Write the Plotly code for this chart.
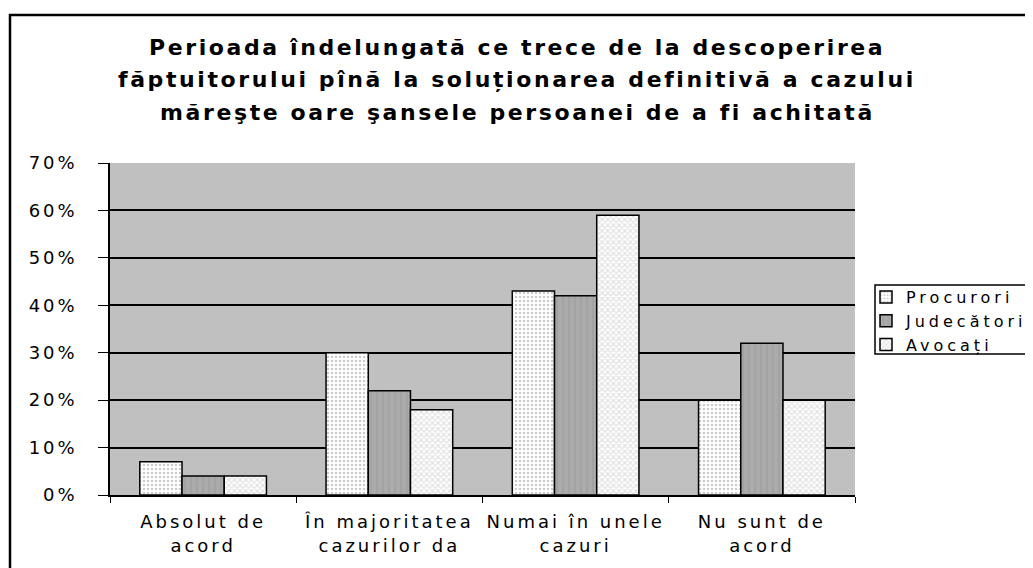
import plotly.graph_objects as go

# data
categories = ["Absolut de<br>acord", "În majoritatea<br>cazurilor da",
              "Numai în unele<br>cazuri", "Nu sunt de<br>acord"]
series_names = ["Procurori", "Judecători", "Avocați"]
procurori = [0.07, 0.30, 0.43, 0.20]
judecatori = [0.04, 0.22, 0.42, 0.32]
avocati = [0.04, 0.18, 0.59, 0.20]
y_ticks = [0, 0.1, 0.2, 0.3, 0.4, 0.5, 0.6, 0.7]
title_lines = ["Perioada îndelungată ce trece de la descoperirea",
               "făptuitorului pînă la soluționarea definitivă a cazului",
               "măreşte oare şansele persoanei de a fi achitată"]


def wide(text, ls=3):
    # the original font is stretched; letter spacing imitates it
    return "<br>".join(f"<span style='letter-spacing:{ls}px'>{t}</span>"
                       for t in text.split("<br>"))


W, H = 1033, 568
OFF = 8  # page body margin
L, T = 110 - OFF, 163 - OFF
PW, PH = 745, 332
R, B = W - L - PW, H - T - PH
FONT = "DejaVu Sans, Liberation Sans, Arial, sans-serif"


def px_x(v):
    return (v - 110) / PW


def px_y(v):
    return (495 - v) / PH


fig = go.Figure()
fig.add_trace(go.Bar(
    x=categories, y=procurori, name=wide(series_names[0], 4),
    marker=dict(color="white", line=dict(color="black", width=1.5),
                pattern=dict(shape=".", fgcolor="#9a9a9a", bgcolor="white",
                             size=4, solidity=0.35)),
))
fig.add_trace(go.Bar(
    x=categories, y=judecatori, name=wide(series_names[1], 4),
    marker=dict(color="#a8a8a8", line=dict(color="black", width=1.5),
                pattern=dict(shape="|", fgcolor="#9c9c9c", bgcolor="#ababab",
                             size=6, solidity=0.4)),
))
fig.add_trace(go.Bar(
    x=categories, y=avocati, name=wide(series_names[2], 4),
    marker=dict(color="#e0e0e0", line=dict(color="black", width=1.5),
                pattern=dict(shape="x", fgcolor="#c4c4c4", bgcolor="white",
                             size=4, solidity=0.5)),
))

# outer chart border (left and top visible, the rest runs off the picture)
fig.add_shape(type="rect", xref="paper", yref="paper",
              x0=px_x(10), x1=px_x(1060), y0=px_y(15), y1=px_y(600),
              line=dict(color="black", width=2.5), layer="below")
# legend box
fig.add_shape(type="rect", xref="paper", yref="paper",
              x0=px_x(875), x1=px_x(1045), y0=px_y(285), y1=px_y(354),
              line=dict(color="black", width=1.5), fillcolor="white",
              layer="below")

# title, one annotation per line
for i, line in enumerate(title_lines):
    fig.add_annotation(text=f"<b>{wide(line, 2.6)}</b>", xref="paper", yref="paper",
                       x=px_x(517), y=px_y(47 + 33 * i), xanchor="center",
                       yanchor="middle", showarrow=False,
                       font=dict(size=22, color="black", family=FONT))

fig.update_layout(
    width=W, height=H,
    margin=dict(l=L, r=R, t=T, b=B, pad=0, autoexpand=False),
    paper_bgcolor="white", plot_bgcolor="#c0c0c0",
    font=dict(family=FONT, size=18, color="black"),
    barmode="group", bargap=0.32, bargroupgap=0,
    showlegend=True,
    legend=dict(x=px_x(866), y=px_y(280), xanchor="left", yanchor="top",
                borderwidth=0, bgcolor="rgba(0,0,0,0)",
                font=dict(size=16), tracegroupgap=0, itemwidth=30),
)
fig.update_xaxes(
    tickvals=categories, ticktext=[wide(c) for c in categories],
    tickangle=0, automargin=False, ticklabelstandoff=10,
    showline=True, linecolor="black", linewidth=1.5,
    ticks="outside", tickson="boundaries", ticklen=6, tickcolor="black",
    showgrid=False, tickfont=dict(size=18),
)
fig.update_yaxes(
    range=[0, 0.7], tickvals=y_ticks,
    ticktext=[wide(f"{round(v * 100)}%") for v in y_ticks],
    automargin=False, ticklabelstandoff=17,
    showline=True, linecolor="black", linewidth=1.5,
    ticks="outside", ticklen=10, tickcolor="black",
    showgrid=True, gridcolor="black", gridwidth=1.5,
    zeroline=False, tickfont=dict(size=18),
)

fig.write_html("out.html")
